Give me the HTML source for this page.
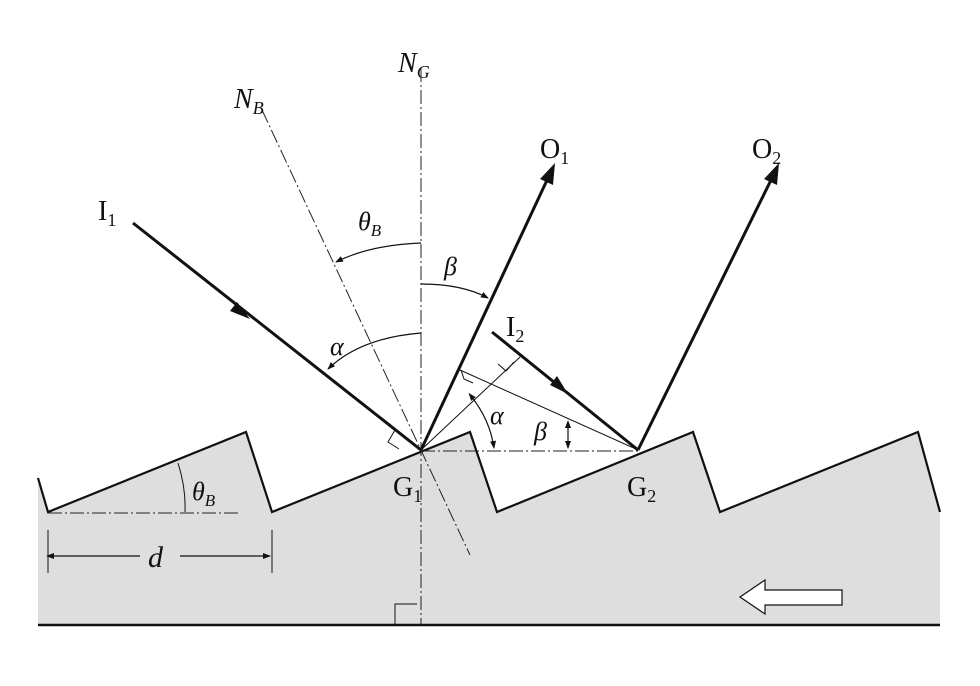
<!DOCTYPE html>
<html><head><meta charset="utf-8"><style>
body{margin:0;background:#fff}
text{font-family:"Liberation Serif",serif;fill:#111}
</style></head><body>
<svg width="980" height="681" viewBox="0 0 980 681" xmlns="http://www.w3.org/2000/svg">
<defs>
<marker id="a" markerWidth="8" markerHeight="8" refX="7" refY="4" orient="auto" markerUnits="userSpaceOnUse"><path d="M0,1 L8,4 L0,7 Z" fill="#111"/></marker>
<marker id="s" markerWidth="8" markerHeight="8" refX="4" refY="4" orient="auto-start-reverse" markerUnits="userSpaceOnUse"><path d="M0,1 L8,4 L0,7 Z" fill="#111"/></marker>
</defs>
<path d="M38,478 L48,512 L246,432 L272,512 L470,432 L497,512 L693,432 L720,512 L918,432 L940,512 L940,625 L38,625 Z" fill="#dedede"/>
<path d="M38,478 L48,512 L246,432 L272,512 L470,432 L497,512 L693,432 L720,512 L918,432 L940,512" fill="none" stroke="#111" stroke-width="2.2"/>
<line x1="38" y1="625" x2="940" y2="625" stroke="#111" stroke-width="2.5"/>
<line x1="421" y1="68" x2="421" y2="625" stroke="#222" stroke-width="1" stroke-dasharray="14,3,2,3"/>
<line x1="262" y1="110" x2="470" y2="555" stroke="#222" stroke-width="1" stroke-dasharray="14,3,2,3"/>
<line x1="421" y1="451" x2="638" y2="451" stroke="#222" stroke-width="1" stroke-dasharray="14,3,2,3"/>
<line x1="48" y1="513" x2="240" y2="513" stroke="#222" stroke-width="1" stroke-dasharray="14,3,2,3"/>
<line x1="133" y1="223" x2="421" y2="450" stroke="#111" stroke-width="3"/>
<polygon points="250,319 230,311 237,302" fill="#111"/>
<line x1="421" y1="450" x2="548" y2="178" stroke="#111" stroke-width="3"/>
<polygon points="555,163 553,185 540,179" fill="#111"/>
<line x1="638" y1="450" x2="772" y2="178" stroke="#111" stroke-width="3"/>
<polygon points="779,163 777,185 764,179" fill="#111"/>
<line x1="492" y1="332" x2="638" y2="450" stroke="#111" stroke-width="3"/>
<polygon points="568,394 550,385 557,376" fill="#111"/>
<line x1="421" y1="450" x2="520" y2="357" stroke="#111" stroke-width="1"/>
<line x1="638" y1="450" x2="460" y2="370" stroke="#111" stroke-width="1"/>
<path d="M498,364 L506,371 L514,362" fill="none" stroke="#111" stroke-width="1"/>
<path d="M461,370 L464,379 L473,383" fill="none" stroke="#111" stroke-width="1"/>
<path d="M395,430 L388,442 L399,449" fill="none" stroke="#111" stroke-width="1"/>
<path d="M395,625 L395,604 L417,604" fill="none" stroke="#111" stroke-width="1"/>
<path d="M421,243 Q370,245 336,262" fill="none" stroke="#111" stroke-width="1.2" marker-end="url(#a)"/>
<path d="M421,333 Q360,338 328,369" fill="none" stroke="#111" stroke-width="1.2" marker-end="url(#a)"/>
<path d="M421,284 Q462,284 488,298" fill="none" stroke="#111" stroke-width="1.2" marker-end="url(#a)"/>
<path d="M471,396 Q490,420 494,448" fill="none" stroke="#111" stroke-width="1.2" marker-start="url(#s)" marker-end="url(#a)"/>
<line x1="568" y1="424" x2="568" y2="448" stroke="#111" stroke-width="1.2" marker-start="url(#s)" marker-end="url(#a)"/>
<path d="M178,463 Q186,488 185,512" fill="none" stroke="#111" stroke-width="1"/>
<line x1="48" y1="530" x2="48" y2="573" stroke="#111" stroke-width="1"/>
<line x1="272" y1="530" x2="272" y2="573" stroke="#111" stroke-width="1"/>
<line x1="50" y1="556" x2="140" y2="556" stroke="#111" stroke-width="1.2" marker-start="url(#s)"/>
<line x1="180" y1="556" x2="270" y2="556" stroke="#111" stroke-width="1.2" marker-end="url(#a)"/>
<polygon points="740,597 765,580 765,590 842,590 842,605 765,605 765,614" fill="#fff" stroke="#111" stroke-width="1.2"/>
<text x="398" y="72" font-size="28" font-style="italic">N<tspan font-size="18" dy="6">G</tspan></text>
<text x="234" y="108" font-size="28" font-style="italic">N<tspan font-size="18" dy="6">B</tspan></text>
<text x="358" y="230" font-size="26" font-style="italic">θ<tspan font-size="17" dy="6">B</tspan></text>
<text x="444" y="275" font-size="26" font-style="italic">β</text>
<text x="330" y="355" font-size="26" font-style="italic">α</text>
<text x="98" y="220" font-size="28">I<tspan font-size="18" dy="6">1</tspan></text>
<text x="540" y="158" font-size="28">O<tspan font-size="18" dy="6">1</tspan></text>
<text x="752" y="158" font-size="28">O<tspan font-size="18" dy="6">2</tspan></text>
<text x="506" y="336" font-size="28">I<tspan font-size="18" dy="6">2</tspan></text>
<text x="490" y="424" font-size="26" font-style="italic">α</text>
<text x="534" y="440" font-size="26" font-style="italic">β</text>
<text x="393" y="496" font-size="28">G<tspan font-size="18" dy="6">1</tspan></text>
<text x="627" y="496" font-size="28">G<tspan font-size="18" dy="6">2</tspan></text>
<text x="192" y="500" font-size="26" font-style="italic">θ<tspan font-size="17" dy="6">B</tspan></text>
<text x="148" y="567" font-size="30" font-style="italic">d</text>
</svg>
</body></html>
